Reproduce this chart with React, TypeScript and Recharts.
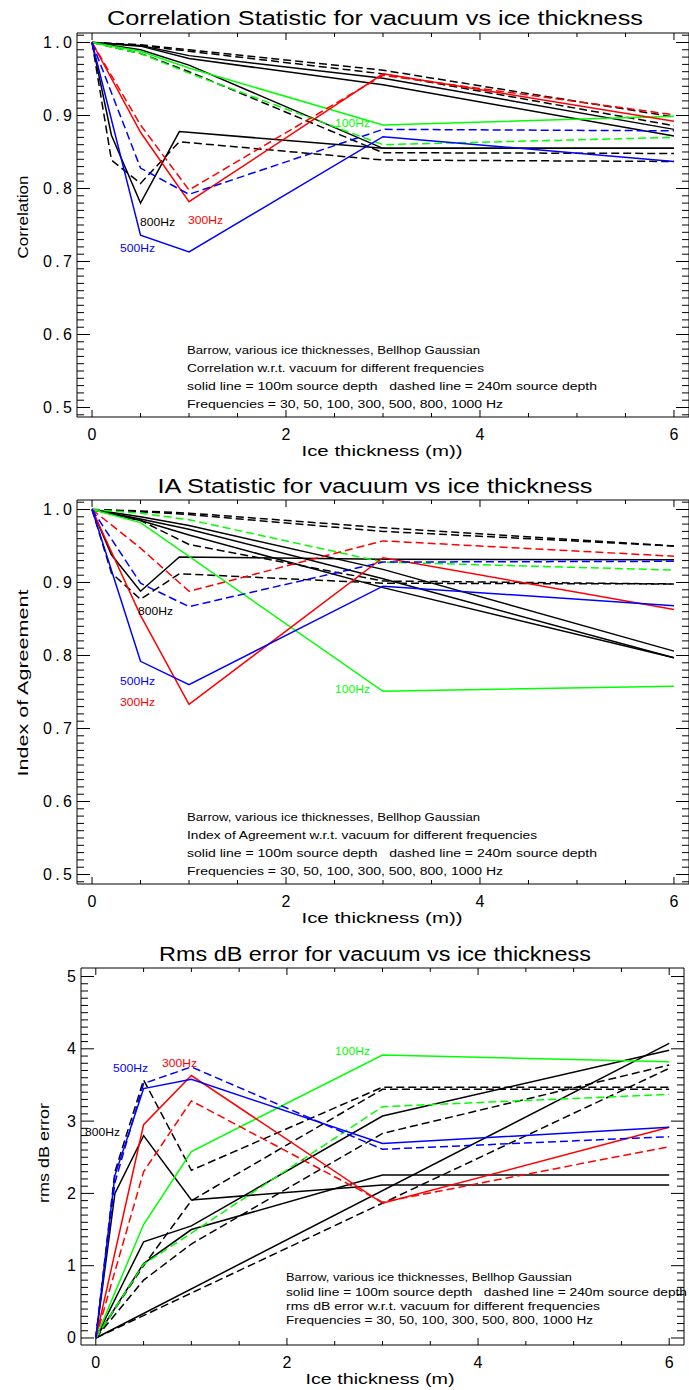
import React from "react";
import { LineChart, Line, XAxis, YAxis } from "recharts";

// Ice thickness samples (m)
const THICKNESS = [0, 0.2, 0.5, 1, 3, 6];
const THICKNESS_800 = [0, 0.2, 0.5, 0.9, 3, 6];
const X_TICKS = [0, 0.5, 1, 1.5, 2, 2.5, 3, 3.5, 4, 4.5, 5, 5.5, 6];
const X_LABELS = [0, 2, 4, 6];

// Correlation statistic
const corr30Solid = [1, null, 0.996, 0.982, 0.951, 0.881];
const corr30Dashed = [1, null, 0.997, 0.99, 0.962, 0.898];
const corr50Solid = [1, null, 0.995, 0.978, 0.942, 0.872];
const corr50Dashed = [1, null, 0.996, 0.988, 0.957, 0.886];
const corr100Solid = [1, null, 0.988, 0.965, 0.887, 0.899];
const corr100Dashed = [1, null, 0.985, 0.958, 0.86, 0.87];
const corr300Solid = [1, null, 0.877, 0.782, 0.957, 0.892];
const corr300Dashed = [1, null, 0.887, 0.798, 0.955, 0.901];
const corr500Solid = [1, null, 0.736, 0.713, 0.871, 0.837];
const corr500Dashed = [1, null, 0.828, 0.792, 0.881, 0.879];
const corr800Solid = [1, 0.873, 0.78, 0.878, 0.855, 0.855];
const corr800Dashed = [1, 0.839, 0.807, 0.864, 0.839, 0.837];
const corr1000Solid = [1, null, 0.99, 0.969, 0.855, 0.855];
const corr1000Dashed = [1, null, 0.985, 0.96, 0.849, 0.848];

// Index of agreement
const ia30Solid = [1, null, 0.99, 0.978, 0.918, 0.806];
const ia30Dashed = [1, null, 0.998, 0.995, 0.975, 0.95];
const ia50Solid = [1, null, 0.987, 0.973, 0.905, 0.797];
const ia50Dashed = [1, null, 0.997, 0.993, 0.97, 0.95];
const ia100Solid = [1, null, 0.982, null, 0.751, 0.758];
const ia100Dashed = [1, null, 0.995, 0.986, 0.928, 0.917];
const ia300Solid = [1, null, 0.855, 0.733, 0.934, 0.863];
const ia300Dashed = [1, null, 0.947, 0.888, 0.957, 0.936];
const ia500Solid = [1, null, 0.792, 0.76, 0.895, 0.868];
const ia500Dashed = [1, null, 0.899, 0.867, 0.928, 0.929];
const ia800Solid = [1, 0.938, 0.888, 0.935, 0.932, 0.931];
const ia800Dashed = [1, 0.913, 0.877, 0.912, 0.899, 0.898];
const ia1000Solid = [1, null, 0.985, 0.965, 0.893, 0.797];
const ia1000Dashed = [1, null, 0.985, 0.952, 0.902, 0.898];

// Rms dB error
const rms30Solid = [0, null, null, null, null, 4.076];
const rms30Dashed = [0, null, null, null, null, 3.73];
const rms50Solid = [0, null, 1.33, 1.55, 3.07, 3.98];
const rms50Dashed = [0, null, 1.0, 1.9, 3.44, 3.44];
const rms100Solid = [0, null, 1.57, 2.58, 3.914, 3.822];
const rms100Dashed = [0, null, 1.02, 1.45, 3.2, 3.37];
const rms300Solid = [0, null, 2.95, 3.63, 1.863, 2.914];
const rms300Dashed = [0, null, 2.3, 3.28, 1.88, 2.647];
const rms500Solid = [0, 2.25, 3.45, 3.58, 2.69, 2.914];
const rms500Dashed = [0, 2.15, 3.52, 3.75, 2.61, 2.785];
const rms800Solid = [0, 2.0, 2.8, 1.91, 2.116, 2.116];
const rms800Dashed = [0, 2.3, 3.57, 2.32, 3.47, 3.47];
const rms1000Solid = [0, null, 1.03, 1.5, 2.254, 2.254];
const rms1000Dashed = [0, null, 0.8, 1.3, 2.83, 3.776];

const BLACK = "#000000";
const GREEN = "#00ff00";
const RED = "#ff0000";
const BLUE = "#0000ff";
const FONT = "'Liberation Sans', Arial, sans-serif";

type Curve = { xs: number[]; ys: (number | null)[]; color: string; dashed?: boolean };

const corrCurves: Curve[] = [
  { xs: THICKNESS, ys: corr30Solid, color: BLACK },
  { xs: THICKNESS, ys: corr30Dashed, color: BLACK, dashed: true },
  { xs: THICKNESS, ys: corr50Solid, color: BLACK },
  { xs: THICKNESS, ys: corr50Dashed, color: BLACK, dashed: true },
  { xs: THICKNESS_800, ys: corr800Solid, color: BLACK },
  { xs: THICKNESS_800, ys: corr800Dashed, color: BLACK, dashed: true },
  { xs: THICKNESS, ys: corr1000Solid, color: BLACK },
  { xs: THICKNESS, ys: corr1000Dashed, color: BLACK, dashed: true },
  { xs: THICKNESS, ys: corr100Solid, color: GREEN },
  { xs: THICKNESS, ys: corr100Dashed, color: GREEN, dashed: true },
  { xs: THICKNESS, ys: corr300Solid, color: RED },
  { xs: THICKNESS, ys: corr300Dashed, color: RED, dashed: true },
  { xs: THICKNESS, ys: corr500Solid, color: BLUE },
  { xs: THICKNESS, ys: corr500Dashed, color: BLUE, dashed: true },
];

const iaCurves: Curve[] = [
  { xs: THICKNESS, ys: ia30Solid, color: BLACK },
  { xs: THICKNESS, ys: ia30Dashed, color: BLACK, dashed: true },
  { xs: THICKNESS, ys: ia50Solid, color: BLACK },
  { xs: THICKNESS, ys: ia50Dashed, color: BLACK, dashed: true },
  { xs: THICKNESS_800, ys: ia800Solid, color: BLACK },
  { xs: THICKNESS_800, ys: ia800Dashed, color: BLACK, dashed: true },
  { xs: THICKNESS, ys: ia1000Solid, color: BLACK },
  { xs: THICKNESS, ys: ia1000Dashed, color: BLACK, dashed: true },
  { xs: THICKNESS, ys: ia100Solid, color: GREEN },
  { xs: THICKNESS, ys: ia100Dashed, color: GREEN, dashed: true },
  { xs: THICKNESS, ys: ia300Solid, color: RED },
  { xs: THICKNESS, ys: ia300Dashed, color: RED, dashed: true },
  { xs: THICKNESS, ys: ia500Solid, color: BLUE },
  { xs: THICKNESS, ys: ia500Dashed, color: BLUE, dashed: true },
];

const rmsCurves: Curve[] = [
  { xs: THICKNESS, ys: rms30Solid, color: BLACK },
  { xs: THICKNESS, ys: rms30Dashed, color: BLACK, dashed: true },
  { xs: THICKNESS, ys: rms50Solid, color: BLACK },
  { xs: THICKNESS, ys: rms50Dashed, color: BLACK, dashed: true },
  { xs: THICKNESS, ys: rms800Solid, color: BLACK },
  { xs: THICKNESS, ys: rms800Dashed, color: BLACK, dashed: true },
  { xs: THICKNESS, ys: rms1000Solid, color: BLACK },
  { xs: THICKNESS, ys: rms1000Dashed, color: BLACK, dashed: true },
  { xs: THICKNESS, ys: rms100Solid, color: GREEN },
  { xs: THICKNESS, ys: rms100Dashed, color: GREEN, dashed: true },
  { xs: THICKNESS, ys: rms300Solid, color: RED },
  { xs: THICKNESS, ys: rms300Dashed, color: RED, dashed: true },
  { xs: THICKNESS, ys: rms500Solid, color: BLUE },
  { xs: THICKNESS, ys: rms500Dashed, color: BLUE, dashed: true },
];

const toPoints = (xs: number[], ys: (number | null)[]) =>
  xs.map((x, i) => ({ x, y: ys[i] })).filter((p) => p.y !== null);

const range = (from: number, to: number, div: number) => {
  const out: number[] = [];
  for (let i = from; i <= to; i++) out.push(i / div);
  return out;
};

type Tag = { text: string; x: number; y: number; color: string };

type PanelProps = {
  top: number;
  height: number;
  // plot frame in panel pixels
  frame: { left: number; top: number; right: number; bottom: number };
  yDomain: [number, number];
  yTicks: number[];
  isMajorY: (v: number) => boolean;
  fmtY: (v: number) => string;
  curves: Curve[];
  title: string;
  titleLen: number;
  titleY: number;
  yTitle: string;
  yTitleX: number;
  yTitleY: number;
  yTitleLen: number;
  xTitle: string;
  xTitleX: number;
  xTitleY: number;
  xTitleLen: number;
  notes: string[];
  notesX: number;
  notesY: number[];
  notesLen: number[];
  tags: Tag[];
};

const Panel = (p: PanelProps) => {
  // axes are 1px thick, so margins sit one pixel outside the frame
  const margin = {
    top: p.frame.top - 1,
    left: p.frame.left - 1,
    right: 689 - p.frame.right - 1,
    bottom: p.height - p.frame.bottom - 1,
  };

  const leftTick = (props: any) => {
    const { x, y, payload } = props;
    const major = p.isMajorY(payload.value);
    const label = p.fmtY(payload.value);
    return (
      <g>
        <line x1={x} x2={x + (major ? 13 : 7)} y1={y} y2={y} stroke={BLACK} />
        {major && (
          <text x={x - 5} y={y} textAnchor="end" dominantBaseline="central" fontSize={16}
            fontFamily={FONT} fill={BLACK} {...(label.length > 1 ? { textLength: 29 } : {})}>
            {label}
          </text>
        )}
      </g>
    );
  };
  const rightTick = (props: any) => {
    const { x, y, payload } = props;
    const major = p.isMajorY(payload.value);
    return <line x1={x} x2={x - (major ? 13 : 7)} y1={y} y2={y} stroke={BLACK} />;
  };
  const bottomTick = (props: any) => {
    const { x, y, payload } = props;
    const major = X_LABELS.includes(payload.value);
    return (
      <g>
        <line x1={x} x2={x} y1={y} y2={y - (major ? 7 : 4)} stroke={BLACK} />
        {major && (
          <text x={x} y={y + 17} textAnchor="middle" dominantBaseline="central" fontSize={16}
            fontFamily={FONT} fill={BLACK}>
            {payload.value}
          </text>
        )}
      </g>
    );
  };
  const topTick = (props: any) => {
    const { x, y, payload } = props;
    const major = X_LABELS.includes(payload.value);
    return <line x1={x} x2={x} y1={y} y2={y + (major ? 7 : 4)} stroke={BLACK} />;
  };

  return (
    <div style={{ position: "absolute", left: 0, top: p.top, width: 689, height: p.height }}>
      <LineChart width={689} height={p.height} margin={margin}>
        <XAxis dataKey="x" type="number" domain={[-0.155, 6.155]} allowDataOverflow ticks={X_TICKS}
          interval={0} height={1} tickSize={0} tickMargin={0} tickLine={false}
          axisLine={{ stroke: BLACK }} tick={bottomTick} />
        <XAxis xAxisId="top" orientation="top" dataKey="x" type="number" domain={[-0.155, 6.155]}
          allowDataOverflow ticks={X_TICKS} interval={0} height={1} tickSize={0} tickMargin={0}
          tickLine={false} axisLine={{ stroke: BLACK }} tick={topTick} />
        <YAxis type="number" domain={p.yDomain} allowDataOverflow ticks={p.yTicks} interval={0}
          width={1} tickSize={0} tickMargin={0} tickLine={false} axisLine={{ stroke: BLACK }}
          tick={leftTick} />
        <YAxis yAxisId="right" orientation="right" type="number" domain={p.yDomain} allowDataOverflow
          ticks={p.yTicks} interval={0} width={1} tickSize={0} tickMargin={0} tickLine={false}
          axisLine={{ stroke: BLACK }} tick={rightTick} />
        {p.curves.map((c, i) => (
          <Line key={i} data={toPoints(c.xs, c.ys)} dataKey="y" type="linear" stroke={c.color}
            strokeWidth={1.5} strokeDasharray={c.dashed ? "8 4" : undefined} dot={false}
            activeDot={false} isAnimationActive={false} />
        ))}
      </LineChart>
      <svg width={689} height={p.height} style={{ position: "absolute", left: 0, top: 0, pointerEvents: "none" }}
        fontFamily={FONT}>
        <text x={375} y={p.titleY} textAnchor="middle" dominantBaseline="central" fontSize={20}
          textLength={p.titleLen} lengthAdjust="spacingAndGlyphs">{p.title}</text>
        <text transform={`translate(${p.yTitleX},${p.yTitleY}) rotate(-90)`} textAnchor="middle"
          dominantBaseline="central" fontSize={15} textLength={p.yTitleLen}
          lengthAdjust="spacingAndGlyphs">{p.yTitle}</text>
        <text x={p.xTitleX} y={p.xTitleY} textAnchor="middle" dominantBaseline="central" fontSize={15}
          textLength={p.xTitleLen} lengthAdjust="spacingAndGlyphs">{p.xTitle}</text>
        {p.notes.map((n, i) => (
          <text key={i} x={p.notesX} y={p.notesY[i]} dominantBaseline="central" fontSize={10}
            textLength={p.notesLen[i]} lengthAdjust="spacingAndGlyphs" style={{ whiteSpace: "pre" }}>{n}</text>
        ))}
        {p.tags.map((t, i) => (
          <text key={i} x={t.x} y={t.y} dominantBaseline="central" fontSize={11} fill={t.color}
            textLength={35} lengthAdjust="spacingAndGlyphs">{t.text}</text>
        ))}
      </svg>
    </div>
  );
};

const HEADER = "Barrow, various ice thicknesses, Bellhop Gaussian";
const DEPTHS = "solid line = 100m source depth   dashed line = 240m source depth";
const FREQS = "Frequencies = 30, 50, 100, 300, 500, 800, 1000 Hz";

const unitTicks = range(49, 101, 100);
const tenthMajor = (v: number) => Math.abs(v * 10 - Math.round(v * 10)) < 1e-6;

export default function App() {
  return (
    <div style={{ position: "absolute", left: 0, top: 0, width: 689, height: 1390, background: "#fff" }}>
      <Panel
        top={0}
        height={467}
        frame={{ left: 77, top: 33, right: 689, bottom: 417 }}
        yDomain={[0.487, 1.013]}
        yTicks={unitTicks}
        isMajorY={tenthMajor}
        fmtY={(v) => v.toFixed(1)}
        curves={corrCurves}
        title="Correlation Statistic for vacuum vs ice thickness"
        titleLen={536}
        titleY={18}
        yTitle="Correlation"
        yTitleX={22}
        yTitleY={217}
        yTitleLen={83}
        xTitle="Ice thickness (m))"
        xTitleX={382}
        xTitleY={450}
        xTitleLen={161}
        notes={[HEADER, "Correlation w.r.t. vacuum for different frequencies", DEPTHS, FREQS]}
        notesX={187}
        notesY={[350, 368, 386, 404]}
        notesLen={[293, 297, 410, 316]}
        tags={[
          { text: "800Hz", x: 140, y: 222, color: BLACK },
          { text: "300Hz", x: 188, y: 220, color: RED },
          { text: "500Hz", x: 120, y: 248, color: BLUE },
          { text: "100Hz", x: 335, y: 123, color: GREEN },
        ]}
      />
      <Panel
        top={467}
        height={467}
        frame={{ left: 77, top: 33, right: 689, bottom: 417 }}
        yDomain={[0.487, 1.013]}
        yTicks={unitTicks}
        isMajorY={tenthMajor}
        fmtY={(v) => v.toFixed(1)}
        curves={iaCurves}
        title="IA Statistic for vacuum vs ice thickness"
        titleLen={435}
        titleY={18.5}
        yTitle="Index of Agreement"
        yTitleX={22}
        yTitleY={216}
        yTitleLen={187}
        xTitle="Ice thickness (m))"
        xTitleX={382}
        xTitleY={450}
        xTitleLen={161}
        notes={[HEADER, "Index of Agreement w.r.t. vacuum for different frequencies", DEPTHS, FREQS]}
        notesX={187}
        notesY={[350, 368, 386, 404]}
        notesLen={[293, 350, 410, 316]}
        tags={[
          { text: "800Hz", x: 138, y: 144, color: BLACK },
          { text: "500Hz", x: 120, y: 214, color: BLUE },
          { text: "300Hz", x: 120, y: 235, color: RED },
          { text: "100Hz", x: 335, y: 222, color: GREEN },
        ]}
      />
      <Panel
        top={934}
        height={456}
        frame={{ left: 81, top: 34, right: 684, bottom: 411 }}
        yDomain={[-0.097, 5.118]}
        yTicks={range(0, 50, 10)}
        isMajorY={(v) => Math.abs(v - Math.round(v)) < 1e-6}
        fmtY={(v) => String(v)}
        curves={rmsCurves}
        title="Rms dB error for vacuum vs ice thickness"
        titleLen={432}
        titleY={20}
        yTitle="rms dB error"
        yTitleX={43}
        yTitleY={219}
        yTitleLen={100}
        xTitle="Ice thickness (m)"
        xTitleX={380}
        xTitleY={444}
        xTitleLen={149}
        notes={[HEADER, DEPTHS, "rms dB error w.r.t. vacuum for different frequencies", FREQS]}
        notesX={286}
        notesY={[343, 358, 372, 386]}
        notesLen={[286, 401, 314, 307]}
        tags={[
          { text: "500Hz", x: 113, y: 134, color: BLUE },
          { text: "300Hz", x: 162, y: 129, color: RED },
          { text: "100Hz", x: 335, y: 117, color: GREEN },
          { text: "800Hz", x: 85, y: 198, color: BLACK },
        ]}
      />
    </div>
  );
}
